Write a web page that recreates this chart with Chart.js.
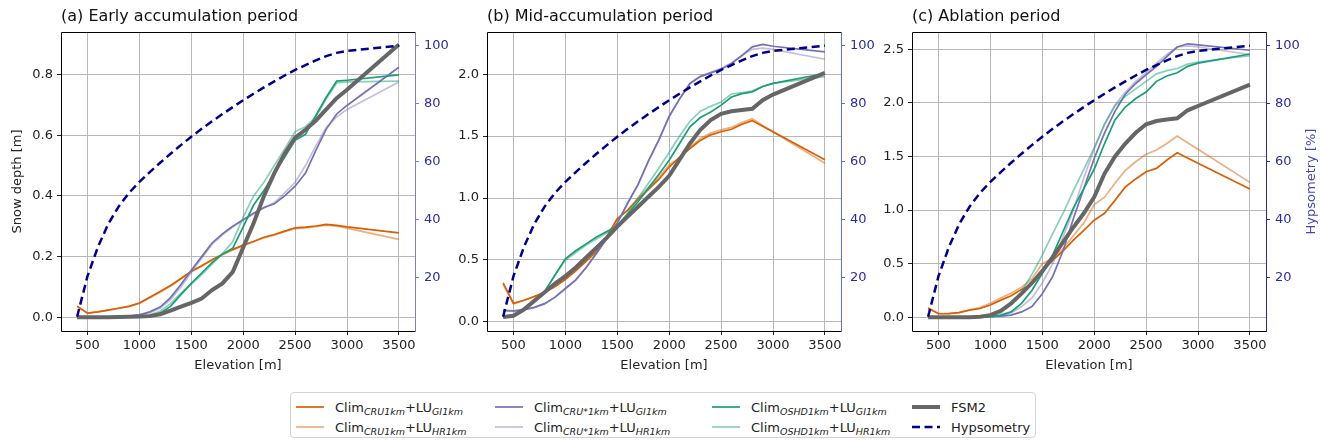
<!DOCTYPE html>
<html>
<head>
<meta charset="utf-8">
<script src="https://cdn.jsdelivr.net/npm/chart.js@4.4.1/dist/chart.umd.min.js"></script>
<style>
  body { margin: 0; background: #fff; width: 1320px; height: 440px; position: relative; overflow: hidden; font-family: 'DejaVu Sans', sans-serif; }
  canvas { position: absolute; top: 0; }
  #legend { position: absolute; left: 290px; top: 392px; width: 746px; height: 46px; border: 1px solid #d4d4d4; border-radius: 4px; box-sizing: border-box; background: #fff; }
  .item { position: absolute; height: 20px; display: flex; align-items: center; font-size: 13px; color: #222; white-space: nowrap; }
  .item svg { margin-right: 11px; }
  .item sub { font-size: 9.5px; font-style: italic; vertical-align: baseline; position: relative; top: 3px; }
</style>
</head>
<body>
<canvas id="chartA" width="460" height="390" style="left:0px"></canvas>
<canvas id="chartB" width="440" height="390" style="left:440px"></canvas>
<canvas id="chartC" width="440" height="390" style="left:880px"></canvas>
<div id="legend"></div>
<script>
// ===== DATA =====
const elevation = [400, 500, 600, 700, 800, 900, 1000, 1100, 1200, 1300, 1400, 1500, 1600, 1700,
                   1800, 1900, 2000, 2100, 2200, 2300, 2400, 2500, 2600, 2700, 2800, 2900, 3000, 3500];
const hypsometry = [6.5, 20.5, 30.5, 38.5, 44.5, 49.2, 53.0, 56.4, 59.6, 62.7, 65.7, 68.6, 71.3, 73.9,
                    76.4, 78.8, 81.2, 83.4, 85.6, 87.7, 89.7, 91.6, 93.3, 94.9, 96.4, 97.5, 98.2, 100];

const xTicks = [500, 1000, 1500, 2000, 2500, 3000, 3500];
const hypTicks = [20, 40, 60, 80, 100];
const depthTicksA = [0, 0.2, 0.4, 0.6, 0.8];
const depthTicksB = [0, 0.5, 1.0, 1.5, 2.0];
const depthTicksC = [0, 0.5, 1.0, 1.5, 2.0, 2.5];

// (a) Early accumulation period
const earlyCruGI = [0.037,0.014,0.018,0.024,0.030,0.036,0.047,0.066,0.085,0.105,0.128,0.152,0.170,0.190,0.208,0.224,0.238,0.250,0.264,0.273,0.284,0.295,0.297,0.301,0.306,0.303,0.298,0.278];
const earlyCruHR = [0.036,0.014,0.018,0.024,0.030,0.036,0.046,0.064,0.083,0.103,0.126,0.150,0.168,0.188,0.206,0.222,0.236,0.249,0.262,0.271,0.282,0.292,0.295,0.299,0.304,0.300,0.294,0.257];
const earlyCruStarGI = [0,0,0,0.001,0.002,0.004,0.008,0.018,0.034,0.065,0.108,0.155,0.200,0.245,0.275,0.300,0.322,0.343,0.362,0.374,0.400,0.432,0.475,0.550,0.620,0.670,0.698,0.824];
const earlyCruStarHR = [0,0,0,0.001,0.002,0.004,0.008,0.015,0.030,0.058,0.100,0.148,0.195,0.240,0.272,0.298,0.320,0.340,0.360,0.378,0.410,0.445,0.500,0.565,0.625,0.660,0.685,0.775];
const earlyOshdGI = [0,0,0,0.001,0.002,0.003,0.004,0.006,0.014,0.036,0.075,0.112,0.146,0.180,0.208,0.228,0.298,0.370,0.418,0.473,0.528,0.583,0.603,0.665,0.725,0.778,0.781,0.799];
const earlyOshdHR = [0,0,0,0.001,0.002,0.003,0.004,0.008,0.020,0.045,0.080,0.110,0.140,0.175,0.210,0.250,0.330,0.400,0.445,0.500,0.555,0.612,0.628,0.660,0.720,0.772,0.776,0.778];
const earlyFsm2 = [0,0,0,0,0.001,0.002,0.003,0.004,0.010,0.022,0.035,0.048,0.062,0.090,0.112,0.150,0.230,0.310,0.400,0.475,0.540,0.592,0.618,0.648,0.685,0.722,0.750,0.899];

// (b) Mid-accumulation period
const midCruGI = [0.315,0.150,0.175,0.205,0.240,0.285,0.345,0.415,0.490,0.570,0.690,0.835,0.900,0.990,1.070,1.150,1.250,1.330,1.400,1.465,1.510,1.535,1.555,1.595,1.625,1.580,1.535,1.310];
const midCruHR = [0.305,0.148,0.173,0.203,0.238,0.283,0.343,0.413,0.488,0.568,0.688,0.830,0.905,1.000,1.085,1.165,1.270,1.320,1.410,1.480,1.525,1.550,1.570,1.610,1.640,1.585,1.535,1.280];
const midCruStarGI = [0.094,0.089,0.100,0.118,0.148,0.200,0.270,0.340,0.440,0.555,0.675,0.800,0.960,1.110,1.300,1.470,1.660,1.800,1.925,1.980,2.010,2.040,2.085,2.150,2.220,2.240,2.225,2.180];
const midCruStarHR = [0.090,0.086,0.098,0.116,0.146,0.198,0.268,0.338,0.438,0.552,0.672,0.795,0.955,1.105,1.295,1.465,1.655,1.800,1.925,1.985,2.015,2.045,2.090,2.150,2.200,2.210,2.200,2.120];
const midOshdGI = [0.040,0.050,0.100,0.170,0.245,0.380,0.510,0.575,0.630,0.685,0.730,0.775,0.870,0.970,1.080,1.190,1.305,1.440,1.575,1.650,1.695,1.750,1.815,1.843,1.857,1.900,1.925,2.005];
const midOshdHR = [0.040,0.050,0.100,0.170,0.245,0.375,0.500,0.560,0.620,0.670,0.720,0.770,0.880,1.000,1.120,1.240,1.370,1.500,1.620,1.700,1.740,1.775,1.840,1.850,1.865,1.900,1.925,1.980];
const midFsm2 = [0.040,0.050,0.100,0.170,0.240,0.310,0.370,0.440,0.520,0.600,0.680,0.770,0.850,0.930,1.010,1.090,1.180,1.310,1.440,1.550,1.630,1.680,1.700,1.710,1.720,1.790,1.835,2.010];

// (c) Ablation period
const ablCruGI = [0.085,0.033,0.034,0.044,0.066,0.082,0.115,0.160,0.200,0.260,0.310,0.430,0.530,0.620,0.720,0.810,0.905,0.970,1.090,1.215,1.290,1.357,1.388,1.466,1.534,1.486,1.437,1.195];
const ablCruHR = [0.090,0.035,0.035,0.045,0.070,0.090,0.130,0.180,0.225,0.280,0.360,0.500,0.550,0.640,0.760,0.880,1.050,1.120,1.250,1.370,1.450,1.520,1.560,1.620,1.690,1.628,1.567,1.258];
const ablCruStarGI = [0,0,0,0,0,0,0.005,0.010,0.020,0.050,0.100,0.220,0.380,0.620,0.920,1.200,1.480,1.720,1.920,2.080,2.180,2.260,2.340,2.430,2.520,2.550,2.540,2.490];
const ablCruStarHR = [0,0,0,0,0,0,0.006,0.015,0.040,0.100,0.180,0.320,0.500,0.750,1.000,1.300,1.570,1.800,1.980,2.100,2.200,2.280,2.370,2.450,2.520,2.530,2.520,2.450];
const ablOshdGI = [0,0,0,0,0,0,0.005,0.020,0.050,0.130,0.250,0.410,0.580,0.800,1.020,1.200,1.380,1.620,1.840,1.960,2.040,2.100,2.200,2.250,2.280,2.340,2.370,2.455];
const ablOshdHR = [0,0,0,0,0,0,0.010,0.040,0.120,0.240,0.400,0.580,0.780,0.970,1.180,1.380,1.580,1.800,1.970,2.060,2.130,2.200,2.270,2.300,2.320,2.360,2.380,2.440];
const ablFsm2 = [0,0,0,0,0,0.005,0.020,0.060,0.130,0.220,0.320,0.430,0.560,0.700,0.840,0.970,1.120,1.340,1.500,1.620,1.720,1.800,1.830,1.845,1.855,1.930,1.970,2.170];

// ===== STYLES =====
const lineStyles = [
    { color: '#d95f02', width: 1.7, label: 'Clim<sub>CRU1km</sub>+LU<sub>GI1km</sub>' },
    { color: 'rgba(217, 95, 2, 0.5)', width: 1.7, label: 'Clim<sub>CRU1km</sub>+LU<sub>HR1km</sub>' },
    { color: '#7570b3', width: 1.7, label: 'Clim<sub>CRU*1km</sub>+LU<sub>GI1km</sub>' },
    { color: 'rgba(117, 112, 179, 0.45)', width: 1.7, label: 'Clim<sub>CRU*1km</sub>+LU<sub>HR1km</sub>' },
    { color: '#1b9e77', width: 1.7, label: 'Clim<sub>OSHD1km</sub>+LU<sub>GI1km</sub>' },
    { color: 'rgba(27, 158, 119, 0.5)', width: 1.7, label: 'Clim<sub>OSHD1km</sub>+LU<sub>HR1km</sub>' },
    { color: '#666666', width: 4, label: 'FSM2' }
];
const hypStyle = { color: '#00008b', width: 2.5, dash: [8, 4.5], label: 'Hypsometry' };
const gridColor = '#b8b8b8';
const rightTickColor = '#2c2c9c';

function toPoints(values) {
    return elevation.map((e, i) => ({ x: e, y: values[i] }));
}

// frame around the plot area (matplotlib-like spines)
const framePlugin = {
    id: 'frame',
    afterDraw(chart, args, opts) {
        const { ctx, chartArea: a } = chart;
        ctx.save();
        ctx.lineWidth = 1;
        ctx.strokeStyle = '#000';
        ctx.beginPath();
        ctx.moveTo(a.right, a.top + 0.5);
        ctx.lineTo(a.left + 0.5, a.top + 0.5);
        ctx.lineTo(a.left + 0.5, a.bottom + 0.5);
        ctx.lineTo(a.right, a.bottom + 0.5);
        ctx.stroke();
        ctx.strokeStyle = opts.rightColor || '#7878c8';
        ctx.beginPath();
        ctx.moveTo(a.right + 0.5, a.top);
        ctx.lineTo(a.right + 0.5, a.bottom + 1);
        ctx.stroke();
        if (opts.rightLabel) {
            ctx.fillStyle = '#4848b0';
            ctx.font = '13px "DejaVu Sans"';
            ctx.textAlign = 'center';
            ctx.textBaseline = 'middle';
            ctx.translate(opts.rightLabelX, (a.top + a.bottom) / 2);
            ctx.rotate(-Math.PI / 2);
            ctx.fillText(opts.rightLabel, 0, 0);
        }
        ctx.restore();
    }
};

function makePanel(canvasId, cfg) {
    const datasets = cfg.series.map((values, i) => ({
        data: toPoints(values),
        borderColor: lineStyles[i].color,
        borderWidth: lineStyles[i].width,
        pointRadius: 0,
        tension: 0,
        yAxisID: 'y',
        order: 7 - i
    }));
    datasets.push({
        data: toPoints(hypsometry),
        borderColor: hypStyle.color,
        borderWidth: hypStyle.width,
        borderDash: hypStyle.dash,
        pointRadius: 0,
        tension: 0,
        yAxisID: 'y2',
        order: 0
    });

    return new Chart(document.getElementById(canvasId), {
        type: 'line',
        data: { datasets },
        options: {
            responsive: false,
            animation: false,
            devicePixelRatio: 1,
            layout: { padding: 0 },
            font: { family: '"DejaVu Sans"' },
            plugins: {
                legend: { display: false },
                tooltip: { enabled: false },
                title: {
                    display: true,
                    text: cfg.title,
                    align: 'start',
                    fullSize: false,
                    color: '#111',
                    font: { size: 16, weight: 'normal', family: '"DejaVu Sans"' },
                    padding: { top: 7, bottom: 5.8 }
                },
                frame: { rightColor: cfg.spineColor, rightLabel: cfg.rightLabel, rightLabelX: cfg.rightLabelX }
            },
            scales: {
                x: {
                    type: 'linear',
                    min: 245,
                    max: 3655,
                    afterBuildTicks: s => { s.ticks = xTicks.map(v => ({ value: v })); },
                    afterFit: s => { s.height = 59; },
                    ticks: { color: '#222', font: { size: 13 }, padding: 3, maxRotation: 0, autoSkip: false, callback: v => String(v) },
                    grid: { color: gridColor, lineWidth: 1, tickColor: '#222', tickLength: 4 },
                    border: { display: false },
                    title: { display: true, text: 'Elevation [m]', color: '#222', font: { size: 13 }, padding: { top: 0, bottom: 17 } }
                },
                y: {
                    type: 'linear',
                    position: 'left',
                    min: cfg.yMin,
                    max: cfg.yMax,
                    afterBuildTicks: s => { s.ticks = cfg.yTicks.map(v => ({ value: v })); },
                    afterFit: s => { s.width = cfg.leftW; },
                    ticks: { color: '#222', font: { size: 13 }, padding: 4, callback: v => v.toFixed(1) },
                    grid: { color: gridColor, lineWidth: 1, tickColor: '#222', tickLength: 4 },
                    border: { display: false },
                    title: { display: !!cfg.yLabel, text: cfg.yLabel || '', color: '#222', font: { size: 13 }, padding: { top: 10, bottom: 0 } }
                },
                y2: {
                    type: 'linear',
                    position: 'right',
                    min: 1.6,
                    max: 104.7,
                    afterBuildTicks: s => { s.ticks = hypTicks.map(v => ({ value: v })); },
                    afterFit: s => { s.width = cfg.rightW; },
                    ticks: { color: rightTickColor, font: { size: 13 }, padding: 5, callback: v => String(v) },
                    grid: { drawOnChartArea: false, tickColor: cfg.spineColor, tickLength: 4 },
                    border: { display: false }
                }
            }
        },
        plugins: [framePlugin]
    });
}

makePanel('chartA', {
    title: '(a) Early accumulation period',
    series: [earlyCruGI, earlyCruHR, earlyCruStarGI, earlyCruStarHR, earlyOshdGI, earlyOshdHR, earlyFsm2],
    yMin: -0.045, yMax: 0.94, yTicks: depthTicksA,
    yLabel: 'Snow depth [m]',
    leftW: 61, rightW: 45, spineColor: '#7c7cc8'
});
makePanel('chartB', {
    title: '(b) Mid-accumulation period',
    series: [midCruGI, midCruHR, midCruStarGI, midCruStarHR, midOshdGI, midOshdHR, midFsm2],
    yMin: -0.073, yMax: 2.34, yTicks: depthTicksB,
    leftW: 47, rightW: 39, spineColor: '#6a6abf'
});
makePanel('chartC', {
    title: '(c) Ablation period',
    series: [ablCruGI, ablCruHR, ablCruStarGI, ablCruStarHR, ablOshdGI, ablOshdHR, ablFsm2],
    yMin: -0.128, yMax: 2.66, yTicks: depthTicksC,
    leftW: 32, rightW: 54, spineColor: '#2a2a8f',
    rightLabel: 'Hypsometry [%]', rightLabelX: 432
});

// ===== LEGEND =====
const legendCols = [5, 204, 421, 621];
const legendRows = [4, 24];
const legendEl = document.getElementById('legend');
const legendEntries = lineStyles.concat([hypStyle]);
legendEntries.forEach((st, i) => {
    const col = Math.floor(i / 2), row = i % 2;
    const item = document.createElement('div');
    item.className = 'item';
    item.style.left = legendCols[col] + 'px';
    item.style.top = legendRows[row] + 'px';
    const dash = st.dash ? `stroke-dasharray="${st.dash.join(' ')}"` : '';
    item.innerHTML = `<svg width="28" height="10"><line x1="0" y1="5" x2="28" y2="5" stroke="${st.color}" stroke-width="${st.width}" ${dash}/></svg><span>${st.label}</span>`;
    legendEl.appendChild(item);
});
</script>
</body>
</html>
